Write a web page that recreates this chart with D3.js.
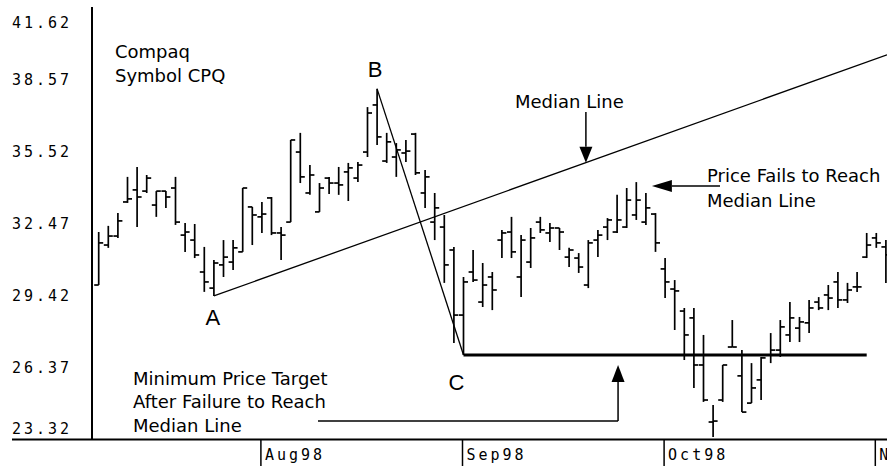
<!DOCTYPE html>
<html>
<head>
<meta charset="utf-8">
<script src="https://cdn.jsdelivr.net/npm/d3@7"></script>
<style>
  body { margin: 0; background: #fff; }
  svg { display: block; }
  .ann { font-family: "DejaVu Sans", sans-serif; font-size: 18px; fill: #000; }
  .pivot { font-family: "Liberation Sans", Arial, sans-serif; font-size: 22px; fill: #000; }
  .pix { font-family: "DejaVu Sans Mono", monospace; font-size: 15px; letter-spacing: 3px; fill: #000; }
</style>
</head>
<body>
<div id="chart"></div>
<script>
// daily bars, Compaq (CPQ), 9 Jul - 3 Nov 1998
const dates = [
  "1998-07-09", "1998-07-10", "1998-07-13", "1998-07-14", "1998-07-15", "1998-07-16", "1998-07-17",
  "1998-07-20", "1998-07-21", "1998-07-22", "1998-07-23", "1998-07-24", "1998-07-27", "1998-07-28",
  "1998-07-29", "1998-07-30", "1998-07-31",
  "1998-08-03", "1998-08-04", "1998-08-05", "1998-08-06", "1998-08-07", "1998-08-10", "1998-08-11",
  "1998-08-12", "1998-08-13", "1998-08-14", "1998-08-17", "1998-08-18", "1998-08-19", "1998-08-20",
  "1998-08-21", "1998-08-24", "1998-08-25", "1998-08-26", "1998-08-27", "1998-08-28", "1998-08-31",
  "1998-09-01", "1998-09-02", "1998-09-03", "1998-09-04", "1998-09-08", "1998-09-09", "1998-09-10",
  "1998-09-11", "1998-09-14", "1998-09-15", "1998-09-16", "1998-09-17", "1998-09-18", "1998-09-21",
  "1998-09-22", "1998-09-23", "1998-09-24", "1998-09-25", "1998-09-28", "1998-09-29", "1998-09-30",
  "1998-10-01", "1998-10-02", "1998-10-05", "1998-10-06", "1998-10-07", "1998-10-08", "1998-10-09",
  "1998-10-12", "1998-10-13", "1998-10-14", "1998-10-15", "1998-10-16", "1998-10-19", "1998-10-20",
  "1998-10-21", "1998-10-22", "1998-10-23", "1998-10-26", "1998-10-27", "1998-10-28", "1998-10-29",
  "1998-10-30", "1998-11-02", "1998-11-03"
];
const open = [
  29.87, 31.56, 31.94, 33.38, 33.89, 33.84, 33.25, 33.84, 33.97, 31.98,
  31.77, 30.42, 29.74, 30.72, 30.84, 31.27, 33.17, 32.75, 33.55, 32.07,
  32.53, 35.49, 33.76, 32.96, 34.39, 34.18, 34.65, 34.39, 35.49, 37.48,
  35.11, 35.28, 35.45, 36.25, 33.76, 32.53, 32.32, 31.35, 28.60, 30.42,
  29.15, 30.21, 31.77, 32.11, 30.21, 30.84, 32.53, 32.07, 32.28, 31.05,
  31.01, 29.87, 31.77, 32.32, 32.11, 32.32, 32.83, 32.53, 32.87, 30.55,
  29.70, 28.77, 28.48, 26.49, 24.08, 25.01, 27.25, 26.03, 24.88, 25.86,
  26.91, 27.12, 27.76, 28.05, 28.27, 29.15, 29.45, 30.00, 29.24, 29.79,
  31.05, 31.86, 31.48
];
const high = [
  32.11, 32.37, 32.91, 34.44, 34.86, 34.52, 33.84, 33.84, 34.44, 32.49,
  32.45, 31.48, 30.93, 31.77, 31.77, 33.97, 33.17, 33.38, 33.59, 32.32,
  36.00, 36.30, 34.94, 34.18, 34.44, 34.86, 35.03, 35.07, 37.39, 38.16,
  36.30, 35.87, 36.00, 36.30, 34.73, 33.76, 32.83, 31.48, 30.21, 31.35,
  30.80, 30.42, 32.20, 32.75, 31.98, 32.28, 32.75, 32.49, 32.28, 31.44,
  31.22, 31.77, 32.20, 32.70, 33.68, 33.97, 34.22, 33.76, 32.91, 31.01,
  30.08, 28.90, 28.90, 27.76, 24.80, 26.49, 28.39, 27.12, 26.57, 26.83,
  27.84, 28.39, 29.15, 28.52, 29.24, 29.36, 29.87, 30.42, 29.96, 30.42,
  32.07, 32.07, 31.77
];
const low = [
  29.87, 31.44, 31.86, 33.34, 32.32, 33.76, 32.75, 33.13, 32.41, 31.27,
  31.01, 29.58, 29.41, 30.21, 30.51, 31.27, 31.56, 32.07, 31.98, 30.93,
  32.53, 34.18, 33.68, 32.96, 33.72, 33.68, 33.42, 34.22, 35.28, 35.79,
  35.03, 34.44, 35.07, 34.52, 33.13, 31.77, 29.96, 27.42, 26.91, 30.00,
  28.94, 28.81, 31.01, 31.01, 29.36, 30.59, 32.07, 31.69, 31.35, 30.63,
  30.38, 29.74, 31.05, 31.77, 32.07, 32.28, 32.62, 32.41, 31.27, 29.32,
  27.97, 26.70, 25.52, 24.93, 23.45, 24.93, 27.25, 24.50, 24.88, 25.01,
  26.57, 26.83, 27.46, 27.46, 27.84, 28.81, 28.81, 28.90, 29.11, 29.58,
  31.01, 31.44, 29.96
];
const close = [
  31.65, 31.94, 32.58, 33.51, 33.59, 34.39, 33.84, 33.59, 32.53, 32.11,
  31.14, 30.00, 30.80, 31.05, 31.44, 33.97, 32.83, 32.87, 32.07, 31.98,
  36.00, 34.44, 34.52, 33.97, 34.18, 34.10, 34.82, 34.94, 37.14, 36.13,
  35.92, 35.58, 35.53, 34.61, 34.44, 33.13, 30.72, 28.60, 30.00, 30.08,
  29.87, 29.66, 32.07, 31.27, 31.77, 31.86, 32.20, 32.28, 32.11, 31.35,
  30.63, 31.65, 31.98, 32.62, 32.62, 33.46, 33.46, 33.13, 31.65, 30.00,
  29.62, 27.76, 26.49, 25.01, 24.12, 26.49, 27.25, 24.50, 25.52, 26.79,
  27.12, 28.10, 28.48, 28.31, 28.90, 28.90, 29.32, 29.24, 29.66, 29.79,
  31.56, 31.65, 31.14
];
const yTicks = [23.32, 26.37, 29.42, 32.47, 35.52, 38.57, 41.62];

// pitchfork pivots (bar index)
const pivotA = 12, pivotB = 29, pivotC = 38;

const W = 887, H = 466;
const parseDate = d3.timeParse("%Y-%m-%d");
const monthFmt = d3.timeFormat("%b%y");

const svg = d3.select("#chart").append("svg").attr("width", W).attr("height", H);

const x = d3.scaleLinear().domain([0, dates.length - 1]).range([98.7, 885.9]);
const y = d3.scaleLinear().domain([23.32, 41.62]).range([440, 7]);

const bars = dates.map((d, i) => ({
  i, date: parseDate(d), o: open[i], h: high[i], l: low[i], c: close[i]
}));

// frame
svg.append("line").attr("x1", 92).attr("x2", 92).attr("y1", 7).attr("y2", 440)
  .attr("stroke", "#000").attr("stroke-width", 2);
svg.append("line").attr("x1", 12).attr("x2", W).attr("y1", 439.5).attr("y2", 439.5)
  .attr("stroke", "#000").attr("stroke-width", 2);

// y axis labels
const yAxis = d3.axisLeft(y).tickValues(yTicks).tickSize(0).tickFormat(d3.format(".2f"));
const gy = svg.append("g").attr("transform", "translate(92,0)").call(yAxis);
gy.select(".domain").remove();
gy.selectAll("text")
  .attr("class", "pix")
  .attr("font-family", null).attr("font-size", null)
  .attr("text-anchor", "start")
  .attr("x", -80)
  .attr("dy", (d) => d === 41.62 ? 20.5 : d === 23.32 ? -7 : 5);

// month ticks on the first trading day of each month
const monthStarts = bars.filter((b, i) => i > 0 && b.date.getMonth() !== bars[i - 1].date.getMonth());
const gx = svg.append("g");
gx.selectAll("line").data(monthStarts).join("line")
  .attr("x1", (d) => x(d.i) - 1).attr("x2", (d) => x(d.i) - 1)
  .attr("y1", 440).attr("y2", H)
  .attr("stroke", "#000").attr("stroke-width", 1.5);
gx.selectAll("text").data(monthStarts).join("text")
  .attr("class", "pix")
  .attr("x", (d) => x(d.i) + 3).attr("y", 460)
  .text((d) => monthFmt(d.date));

// OHLC bars
const gb = svg.append("g").attr("stroke", "#000").attr("stroke-width", 1.7);
const bar = gb.selectAll("g").data(bars).join("g");
bar.append("line")
  .attr("x1", (d) => x(d.i)).attr("x2", (d) => x(d.i))
  .attr("y1", (d) => y(d.h)).attr("y2", (d) => y(d.l));
bar.append("line")
  .attr("x1", (d) => x(d.i) - 4.5).attr("x2", (d) => x(d.i))
  .attr("y1", (d) => y(d.o)).attr("y2", (d) => y(d.o));
bar.append("line")
  .attr("x1", (d) => x(d.i)).attr("x2", (d) => x(d.i) + 4.5)
  .attr("y1", (d) => y(d.c)).attr("y2", (d) => y(d.c));

// pitchfork: B-C leg and median line from A through midpoint of B-C
const pA = low[pivotA], pB = high[pivotB], pC = low[pivotC];
const midI = (pivotB + pivotC) / 2, midP = (pB + pC) / 2;
const median = (i) => pA + (midP - pA) * (i - pivotA) / (midI - pivotA);
const endI = x.invert(W);

const gp = svg.append("g").attr("stroke", "#000").attr("fill", "none");
gp.append("line")
  .attr("x1", x(pivotB)).attr("y1", y(pB)).attr("x2", x(pivotC)).attr("y2", y(pC))
  .attr("stroke-width", 1.3);
gp.append("line")
  .attr("x1", x(pivotA)).attr("y1", y(pA)).attr("x2", x(endI)).attr("y2", y(median(endI)))
  .attr("stroke-width", 1.3);
// minimum price target at C
gp.append("line")
  .attr("x1", x(pivotC)).attr("x2", x(80)).attr("y1", y(pC)).attr("y2", y(pC))
  .attr("stroke-width", 3);

svg.append("text").attr("class", "pivot").attr("text-anchor", "middle")
  .attr("x", x(pivotA) - 1).attr("y", y(pA) + 29).text("A");
svg.append("text").attr("class", "pivot").attr("text-anchor", "middle")
  .attr("x", x(pivotB) - 2).attr("y", y(pB) - 12).text("B");
svg.append("text").attr("class", "pivot").attr("text-anchor", "middle")
  .attr("x", x(pivotC) - 7).attr("y", y(pC) + 35).text("C");

// arrows
function arrow(x1, y1, x2, y2, len, half) {
  const a = Math.atan2(y2 - y1, x2 - x1);
  const bx = x2 - len * Math.cos(a), by = y2 - len * Math.sin(a);
  const nx = -Math.sin(a) * half, ny = Math.cos(a) * half;
  svg.append("line").attr("x1", x1).attr("y1", y1).attr("x2", bx).attr("y2", by)
    .attr("stroke", "#000").attr("stroke-width", 1.5);
  svg.append("path")
    .attr("d", `M${x2},${y2}L${bx + nx},${by + ny}L${bx - nx},${by - ny}Z`)
    .attr("fill", "#000");
}

const medI = 50.75;
arrow(x(medI), 112, x(medI), y(median(medI)), 16, 6.5);
arrow(720, y(high[56]) + 4, x(57) + 6, y(high[56]) + 4, 20, 6);
const tgtI = 54.1;
svg.append("line").attr("x1", 318).attr("x2", x(tgtI)).attr("y1", 421).attr("y2", 421)
  .attr("stroke", "#000").attr("stroke-width", 1.5);
arrow(x(tgtI), 421, x(tgtI), y(pC) + 10, 17, 6.5);

// text notes
const notes = [
  { x: 115, y: 58, t: "Compaq" },
  { x: 115, y: 82, t: "Symbol CPQ" },
  { x: 515, y: 108, t: "Median Line" },
  { x: 707, y: 182, t: "Price Fails to Reach" },
  { x: 707, y: 207, t: "Median Line" },
  { x: 133, y: 385, t: "Minimum Price Target" },
  { x: 133, y: 408, t: "After Failure to Reach" },
  { x: 133, y: 432, t: "Median Line" }
];
svg.selectAll("text.ann").data(notes).join("text")
  .attr("class", "ann")
  .attr("x", (d) => d.x).attr("y", (d) => d.y)
  .text((d) => d.t);
</script>
</body>
</html>
